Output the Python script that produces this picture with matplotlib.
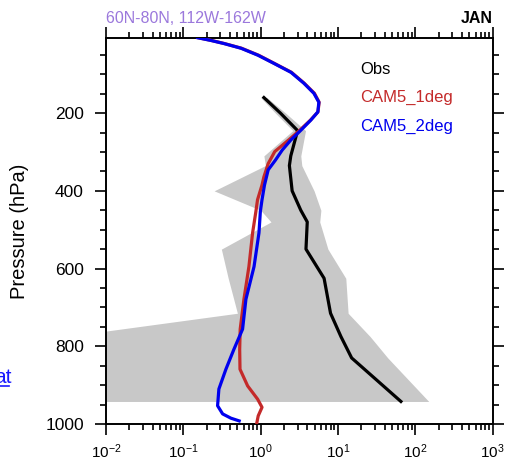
import numpy as np
import matplotlib
matplotlib.use('Agg')
import matplotlib.pyplot as plt
from matplotlib.ticker import LogLocator, MultipleLocator, FixedLocator
from matplotlib.lines import Line2D

plt.rcParams['font.family'] = ['Liberation Sans', 'DejaVu Sans']

# obs profile (median + range)
p_obs = [160, 200, 245, 310, 335, 400, 450, 480, 550, 625, 715, 775, 830, 942]
obs_mid = [1.1, 1.8, 3.0, 2.45, 2.35, 2.55, 3.3, 4.0, 3.85, 6.6, 8.0, 10.9, 15.0, 65]
obs_lo = [1.0, 1.55, 2.6, 1.1, 1.15, 0.25, 1.0, 1.36, 0.31, 0.38, 0.5, 0.003, 0.001, 0.001]
obs_hi = [1.2, 2.1, 3.8, 3.3, 3.4, 4.9, 6.0, 5.8, 7.4, 12.6, 13.5, 26, 44, 149]

# CAM5 1 degree
p_cam1 = [6, 13, 21, 33, 51, 72, 95, 123, 149, 172, 197, 218, 244, 269, 299, 330,
          364, 385, 423, 453, 508, 595, 679, 756, 808, 859, 902, 936, 957, 979, 996]
cam1 = [0.155, 0.23, 0.34, 0.565, 0.94, 1.5, 2.5, 3.65, 4.95, 5.7, 5.5, 4.4, 3.2, 2.3, 1.52, 1.25,
        1.10, 1.04, 0.91, 0.867, 0.786, 0.704, 0.607, 0.543, 0.535, 0.54, 0.678, 0.912, 1.04, 0.929, 0.893]

# CAM5 2 degree
p_cam2 = [6, 13, 21, 33, 51, 72, 95, 123, 149, 172, 197, 218, 244, 269, 295, 321,
          346, 385, 423, 453, 508, 595, 679, 756, 808, 859, 910, 953, 974, 985, 992]
cam2 = [0.153, 0.227, 0.335, 0.555, 0.92, 1.48, 2.46, 3.61, 4.87, 5.65, 5.48, 4.45, 3.31, 2.46, 1.9, 1.55,
        1.25, 1.12, 1.04, 0.99, 0.95, 0.82, 0.644, 0.583, 0.45, 0.355, 0.288, 0.277, 0.322, 0.412, 0.527]

names = ['Obs', 'CAM5_1deg', 'CAM5_2deg']
colors = ['black', '#c42a2a', '#0000ee']
y_ticks = [200, 400, 600, 800, 1000]

fig = plt.figure(figsize=(5.08, 4.68), dpi=100)
ax = fig.add_axes([0.2087, 0.094, 0.7612, 0.8254])

ax.fill_betweenx(p_obs, obs_lo, obs_hi, color='#c8c8c8', lw=0, zorder=1)
ax.plot(obs_mid, p_obs, color=colors[0], lw=2.3, zorder=2)
ax.plot(cam1, p_cam1, color=colors[1], lw=2.3, zorder=3)
ax.plot(cam2, p_cam2, color=colors[2], lw=2.3, zorder=4)

ax.set_xscale('log')
ax.set_xlim(1e-2, 1e3)
ax.set_ylim(1000, 6)

ax.xaxis.set_major_locator(LogLocator(base=10, numticks=10))
ax.xaxis.set_minor_locator(LogLocator(base=10, subs=np.arange(2, 10), numticks=20))
ax.yaxis.set_major_locator(FixedLocator(y_ticks))
ax.yaxis.set_minor_locator(MultipleLocator(50))

for s in ax.spines.values():
    s.set_linewidth(1.4)
ax.tick_params(which='both', direction='out', top=True, right=True, width=1.2)
ax.tick_params(which='major', length=7.9)
ax.tick_params(which='minor', length=4.3)
ax.tick_params(axis='y', labelsize=12.5, pad=8)
ax.tick_params(axis='x', labelsize=11, pad=5)
for lab in ax.get_xticklabels():
    lab.set_family(['Liberation Sans Narrow', 'Liberation Sans'])

ax.set_ylabel('Pressure (hPa)', fontsize=14.5)
ax.yaxis.set_label_coords(-0.2, 0.5)

# legend as coloured text
for i, (nm, c) in enumerate(zip(names, colors)):
    ax.text(0.657, 0.906 - 0.073 * i, nm, color=c, fontsize=12,
            transform=ax.transAxes, va='baseline', ha='left')

fig.text(0.2087, 0.9498, '60N-80N, 112W-162W', color='#9b78dc', fontsize=11.5,
         va='baseline', ha='left')
fig.text(0.9699, 0.9498, 'JAN', color='black', fontsize=11.5, fontweight='bold',
         va='baseline', ha='right')

# stray link fragment at the left edge
fig.text(-0.012, 1 - 383 / 468, 'at', color='#1a1aff', fontsize=15, va='baseline')
fig.add_artist(Line2D([0, 0.018], [1 - 386 / 468] * 2, color='#1a1aff', lw=1.2,
                      transform=fig.transFigure))

fig.savefig('out.png', dpi=100)
